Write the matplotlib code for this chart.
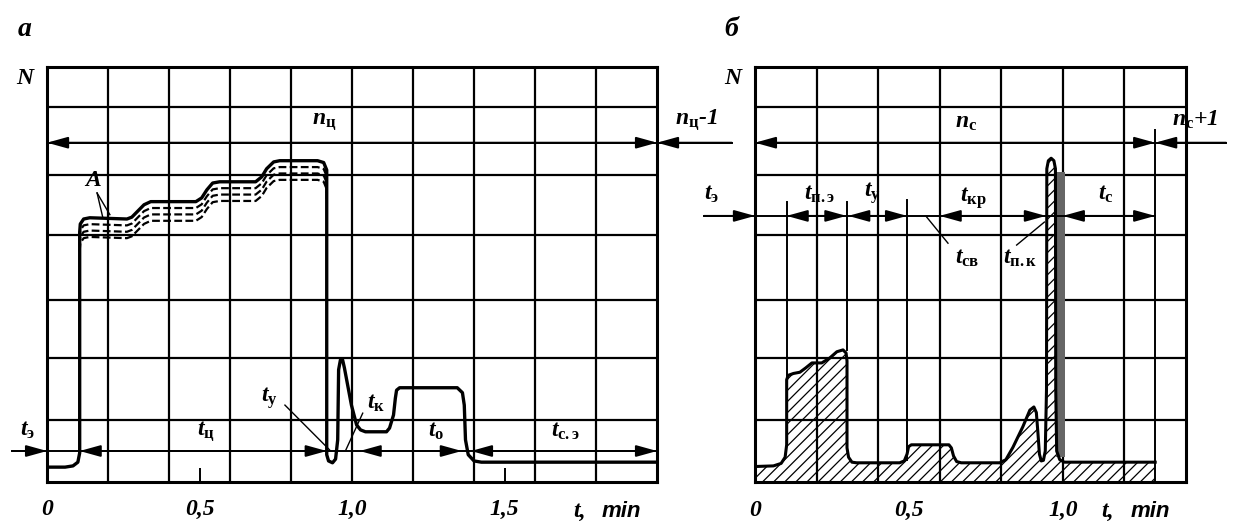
import numpy as np
import matplotlib
matplotlib.use('Agg')
import matplotlib.pyplot as plt
import matplotlib.transforms as mtransforms

plt.rcParams['font.family'] = ['Liberation Serif', 'DejaVu Serif']
plt.rcParams['mathtext.fontset'] = 'custom'
plt.rcParams['mathtext.it'] = 'Liberation Serif:italic:bold'
plt.rcParams['mathtext.rm'] = 'Liberation Serif:bold'
plt.rcParams['mathtext.bf'] = 'Liberation Serif:bold'
plt.rcParams['hatch.linewidth'] = 0.9

# --- panel a: power curve N(t), t in min
left_t = [0, 0.059, 0.085, 0.101, 0.107, 0.107, 0.109, 0.12, 0.14, 0.262, 0.278, 0.298, 0.318, 0.34,
          0.488, 0.507, 0.524, 0.543, 0.566, 0.684, 0.704, 0.72, 0.743, 0.763, 0.887, 0.907, 0.917,
          0.917, 0.917, 0.923, 0.936, 0.946, 0.953, 0.956, 0.962, 0.969, 0.975, 0.998, 1.015, 1.028,
          1.044, 1.113, 1.123, 1.136, 1.142, 1.146, 1.156, 1.175, 1.345, 1.362, 1.368, 1.372, 1.381,
          1.40, 1.424, 2.0]
left_N = [0.24, 0.24, 0.26, 0.32, 0.47, 4.03, 4.16, 4.24, 4.26, 4.24, 4.27, 4.37, 4.47, 4.52,
          4.52, 4.58, 4.71, 4.82, 4.84, 4.84, 4.92, 5.05, 5.16, 5.18, 5.18, 5.15, 5.03,
          4.87, 0.44, 0.34, 0.31, 0.37, 0.68, 1.81, 1.97, 1.97, 1.84, 1.24, 0.92, 0.84,
          0.81, 0.81, 0.87, 1.08, 1.35, 1.48, 1.52, 1.52, 1.52, 1.44, 1.24, 0.68, 0.44,
          0.34, 0.32, 0.32]

# --- panel б: power curve N(t) (hatched)
right_t = [0, 0.06, 0.085, 0.098, 0.103, 0.103, 0.108, 0.125, 0.146, 0.165, 0.185, 0.217, 0.243,
           0.266, 0.286, 0.296, 0.299, 0.299, 0.304, 0.315, 0.33, 0.47, 0.485, 0.494, 0.499, 0.508,
           0.63, 0.638, 0.645, 0.655, 0.67, 0.795, 0.815, 0.838, 0.87, 0.893, 0.906, 0.914, 0.919,
           0.924, 0.93, 0.937, 0.943, 0.947, 0.948, 0.953, 0.962, 0.971, 0.976, 0.977, 0.98, 0.99,
           1.005, 1.3]
right_N = [0.25, 0.26, 0.30, 0.40, 0.6, 1.65, 1.72, 1.75, 1.77, 1.84, 1.92, 1.92, 2.0,
           2.1, 2.13, 2.08, 1.95, 0.55, 0.40, 0.32, 0.31, 0.31, 0.34, 0.45, 0.57, 0.6,
           0.6, 0.55, 0.42, 0.33, 0.31, 0.31, 0.36, 0.56, 0.89, 1.16, 1.21, 1.12, 0.8,
           0.45, 0.34, 0.35, 0.5, 1.5, 5.05, 5.18, 5.22, 5.18, 5.05, 1.5, 0.5, 0.36,
           0.32, 0.32]

grid_N = [1.0, 2.0, 2.94, 3.98, 4.95, 6.05]
top_N = 6.69

left_ticks = [0, 0.5, 1.0, 1.5]
left_ticklabels = ['0', '0,5', '1,0', '1,5']
right_ticks = [0, 0.5, 1.0]
right_ticklabels = ['0', '0,5', '1,0']

fig = plt.figure(figsize=(12.35, 5.29), dpi=100)
axa = fig.add_axes([0.0381, 0.0888, 0.4939, 0.7845])
axb = fig.add_axes([0.6113, 0.0888, 0.3490, 0.7845])

lab = dict(fontsize=17, fontweight='bold', style='italic', ha='center', va='center')
arrow_kw = dict(color='k', lw=1.4, shrinkA=0, shrinkB=0, mutation_scale=14)


def arrow(ax, x0, x1, y, style='<|-|>'):
    ax.annotate('', xy=(x1, y), xytext=(x0, y), annotation_clip=False,
                arrowprops=dict(arrowstyle=style + ',head_length=0.9,head_width=0.25', **arrow_kw))


for ax, xmax in ((axa, 2.0), (axb, 1.4)):
    ax.set_xlim(0, xmax)
    ax.set_ylim(0, top_N)
    for x in np.arange(0.2, xmax - 0.01, 0.2):
        ax.axvline(x, color='k', lw=1.6, zorder=1)
    for y in grid_N:
        ax.axhline(y, color='k', lw=1.6, zorder=1)
    for s in ax.spines.values():
        s.set_linewidth(2.2)
    ax.set_yticks([])
    ax.text(-0.072 if ax is axa else -0.073, 6.5, 'N', **lab)

# panel a
axa.set_xticks(left_ticks)
axa.set_xticklabels(left_ticklabels, fontsize=17, fontweight='bold', style='italic')
axa.tick_params(axis='x', direction='in', length=10, width=1.4, pad=12)
axa.plot(left_t, left_N, color='k', lw=2.4, solid_joinstyle='round', zorder=3)
lt = np.array(left_t)
ln = np.array(left_N)
band = (lt >= 0.107) & (lt <= 0.917) & (ln > 4.0)
for k in (1, 2, 3):
    tr = mtransforms.offset_copy(axa.transData, fig=fig, y=-4.6 * k, units='points')
    axa.plot(lt[band], ln[band], color='k', lw=1.6, ls=(0, (3.5, 1.5)), transform=tr, zorder=3)

axa.plot([0, 2.0], [5.47, 5.47], color='k', lw=1.4)
arrow(axa, 0, 2.0, 5.47)
axa.plot([2.0, 2.245], [5.47, 5.47], color='k', lw=1.4, clip_on=False)
arrow(axa, 2.245, 2.0, 5.47, '-|>')
axa.text(0.91, 5.8, r'$n_{\mathrm{ц}}$', **lab)
axa.text(2.13, 5.84, r'$n_{\mathrm{ц}}$-1', **lab)

axa.plot([-0.115, 2.0], [0.5, 0.5], color='k', lw=1.4, clip_on=False)
arrow(axa, -0.115, 0.0, 0.5, '-|>')
arrow(axa, 0.107, 0.917, 0.5)
arrow(axa, 1.025, 1.36, 0.5)
arrow(axa, 1.39, 2.0, 0.5)
axa.text(-0.065, 0.84, r'$t_{\mathrm{э}}$', **lab)
axa.text(0.52, 0.81, r'$t_{\mathrm{ц}}$', **lab)
axa.text(0.73, 1.35, r'$t_{\mathrm{у}}$', **lab)
axa.plot([0.78, 0.926], [1.24, 0.52], color='k', lw=1.0)
axa.text(1.08, 1.27, r'$t_{\mathrm{к}}$', **lab)
axa.plot([1.035, 0.98], [1.11, 0.52], color='k', lw=1.0)
axa.text(1.277, 0.81, r'$t_{\mathrm{о}}$', **lab)
axa.text(1.70, 0.81, r'$t_{\mathrm{с.э}}$', **lab)

axa.text(0.15, 4.86, 'A', **lab)
axa.plot([0.164, 0.183], [4.66, 4.26], color='k', lw=1.0)
axa.plot([0.164, 0.206], [4.66, 4.31], color='k', lw=1.0)

axa.text(1.745, -0.47, 't,', fontsize=17, fontweight='bold', style='italic', ha='center', va='center',
         clip_on=False)
axa.text(1.82, -0.47, 'min', fontsize=16, fontweight='bold', style='italic', family='Liberation Sans',
         ha='left', va='center', clip_on=False)
axa.text(-0.072, 7.3, 'а', fontsize=20, fontweight='bold', style='italic', ha='center', va='center',
         clip_on=False)

# panel б
axb.set_xticks(right_ticks)
axb.set_xticklabels(right_ticklabels, fontsize=17, fontweight='bold', style='italic')
axb.tick_params(axis='x', direction='in', length=0, pad=13)
axb.fill_between(right_t, 0, right_N, facecolor='none', edgecolor='k', hatch='///', lw=0, zorder=2)
axb.fill_between([0.978, 1.006], 0.4, 5.0, color='0.4', lw=0, zorder=2)
axb.plot(right_t, right_N, color='k', lw=2.2, solid_joinstyle='round', zorder=3)

for x, y0, y1 in ((0.103, 1.65, 4.52), (0.299, 2.13, 4.52), (0.494, 0.35, 4.55), (1.3, 0.0, 5.68)):
    axb.plot([x, x], [y0, y1], color='k', lw=1.4, zorder=3)

axb.plot([0, 1.53], [5.47, 5.47], color='k', lw=1.4, clip_on=False)
arrow(axb, 0, 1.3, 5.47)
arrow(axb, 1.53, 1.3, 5.47, '-|>')
axb.text(0.686, 5.79, r'$n_{\mathrm{с}}$', **lab)
axb.text(1.43, 5.84, r'$n_{\mathrm{с}}$+1', **lab)

axb.plot([-0.165, 1.3], [4.29, 4.29], color='k', lw=1.4, clip_on=False)
arrow(axb, -0.165, 0.0, 4.29, '-|>')
arrow(axb, 0.103, 0.297, 4.29)
arrow(axb, 0.303, 0.494, 4.29)
arrow(axb, 0.60, 0.945, 4.29)
arrow(axb, 1.0, 1.3, 4.29)
axb.text(-0.14, 4.63, r'$t_{\mathrm{э}}$', **lab)
axb.text(0.21, 4.63, r'$t_{\mathrm{п.э}}$', **lab)
axb.text(0.38, 4.66, r'$t_{\mathrm{у}}$', **lab)
axb.text(0.71, 4.58, r'$t_{\mathrm{кр}}$', **lab)
axb.text(1.14, 4.63, r'$t_{\mathrm{с}}$', **lab)
axb.text(0.69, 3.61, r'$t_{\mathrm{св}}$', **lab)
axb.plot([0.558, 0.627], [4.27, 3.85], color='k', lw=1.0)
axb.text(0.86, 3.61, r'$t_{\mathrm{п.к}}$', **lab)
axb.plot([0.85, 0.94], [3.82, 4.19], color='k', lw=1.0)

axb.text(1.144, -0.47, 't,', fontsize=17, fontweight='bold', style='italic', ha='center', va='center',
         clip_on=False)
axb.text(1.22, -0.47, 'min', fontsize=16, fontweight='bold', style='italic', family='Liberation Sans',
         ha='left', va='center', clip_on=False)
axb.text(-0.078, 7.3, 'б', fontsize=20, fontweight='bold', style='italic', ha='center', va='center',
         clip_on=False)

fig.savefig('out.png', dpi=100)
